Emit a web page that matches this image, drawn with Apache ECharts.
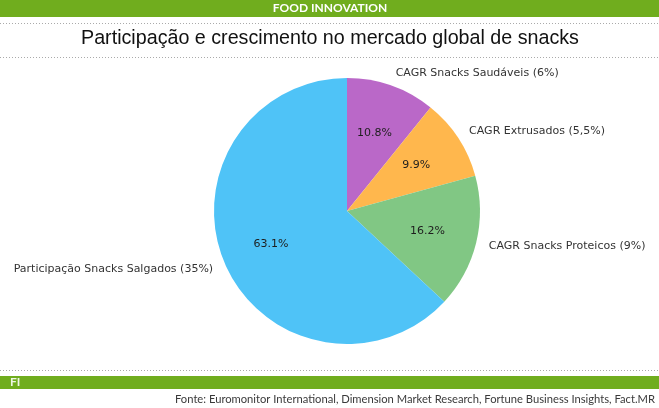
<!doctype html>
<html lang="pt">
<head>
<meta charset="UTF-8"/>
<title>Participação e crescimento no mercado global de snacks</title>
<script src="https://cdn.jsdelivr.net/npm/echarts@6/dist/echarts.min.js"></script>
<style>
  html, body { margin: 0; padding: 0; background: #fff; }
  #main { width: 659px; height: 408px; }
</style>
</head>
<body>
<div id="main"></div>
<script type="text/javascript">
// fatias, no sentido horário a partir do topo
var categories = ['CAGR Snacks Saudáveis (6%)', 'CAGR Extrusados (5,5%)', 'CAGR Snacks Proteicos (9%)', 'Participação Snacks Salgados (35%)'];
var values = [6, 5.5, 9, 35];
var colors = ['#BA68C8', '#FFB74D', '#81C784', '#4FC3F7'];

var titleText = 'Participação e crescimento no mercado global de snacks';
var headerText = 'FOOD INNOVATION';
var sourceText = 'Fonte: Euromonitor International, Dimension Market Research, Fortune Business Insights, Fact.MR';

var green = '#70AD1E';
var R = 133;

var pieData = categories.map(function (name, i) {
  return { name: name, value: values[i], itemStyle: { color: colors[i] } };
});

function dotted(y) {
  return {
    type: 'line',
    shape: { x1: 0, y1: y, x2: 659, y2: y },
    style: { stroke: '#aaa', lineWidth: 1, lineDash: [1, 2] },
    silent: true
  };
}

var myChart = echarts.init(document.getElementById('main'));
var option = {
  animation: false,
  graphic: [
    { type: 'rect', shape: { x: 0, y: 0, width: 659, height: 17 }, style: { fill: green }, silent: true },
    { type: 'text', x: 330, y: 8.5, style: { text: headerText, fill: '#fff', font: 'bold 12px Lato', align: 'center', verticalAlign: 'middle' }, silent: true },
    dotted(23.5),
    { type: 'text', x: 330, y: 39, style: { text: titleText, fill: '#111', font: '19.7px "Liberation Sans", Arial', align: 'center', verticalAlign: 'middle' }, silent: true },
    dotted(57.5),
    dotted(370.5),
    { type: 'rect', shape: { x: 0, y: 376, width: 659, height: 13 }, style: { fill: green }, silent: true },
    { type: 'text', x: 10, y: 382.5, style: { text: 'FI', fill: '#eef6e4', font: 'bold 12px Lato', align: 'left', verticalAlign: 'middle' }, silent: true },
    { type: 'text', x: 655, y: 399.5, style: { text: sourceText, fill: '#3a3a3a', font: '11.2px Lato', align: 'right', verticalAlign: 'middle' }, silent: true }
  ],
  series: [
    {
      type: 'pie',
      center: [347, 211],
      radius: R,
      startAngle: 90,
      clockwise: true,
      avoidLabelOverlap: false,
      silent: true,
      data: pieData,
      label: {
        position: 'outside',
        formatter: '{b}',
        color: '#333',
        fontFamily: 'DejaVu Sans',
        fontSize: 11,
        distanceToLabelLine: 0
      },
      labelLine: { show: true, length: 13, length2: 0, lineStyle: { opacity: 0 } }
    },
    {
      // rótulos de percentagem a 0.6 do raio
      type: 'pie',
      center: [347, 211],
      radius: [R * 0.2, R],
      startAngle: 90,
      clockwise: true,
      avoidLabelOverlap: false,
      silent: true,
      percentPrecision: 1,
      data: pieData.map(function (d) {
        return { name: d.name, value: d.value, itemStyle: { color: 'rgba(0,0,0,0)' } };
      }),
      label: {
        position: 'inside',
        formatter: '{d}%',
        color: '#1e1e1e',
        fontFamily: 'DejaVu Sans',
        fontSize: 11,
        textBorderWidth: 0
      },
      labelLine: { show: false }
    }
  ]
};
myChart.setOption(option);
</script>
</body>
</html>
